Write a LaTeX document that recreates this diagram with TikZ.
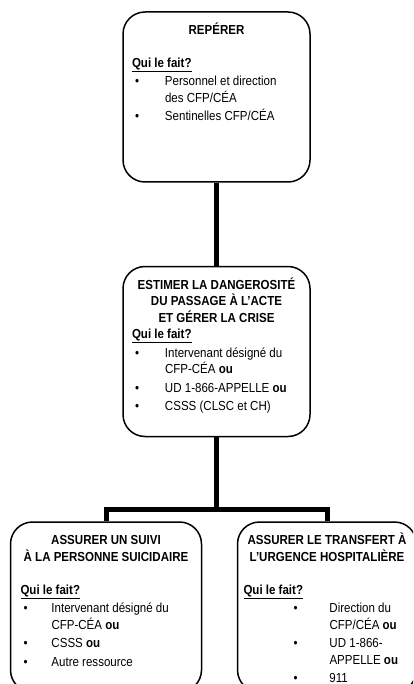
\documentclass[tikz,border=0pt]{standalone}
\usepackage{fontspec}
\setmainfont[FakeStretch=0.88]{Liberation Sans}
\usetikzlibrary{positioning}

\newcommand{\quilefait}{\textbf{\underline{Qui le fait?}}}
\newcommand{\puce}[2]{\par\vspace{2pt}\noindent\hangindent=#2\hangafter=1\hspace*{#1}\makebox[\dimexpr#2-#1\relax][l]{\textbullet}}
\newcommand{\contenu}[2]{\parbox[t][170pt][t]{#1}{\raggedright\rule{0pt}{22.5pt}#2}}

\begin{document}
\begin{tikzpicture}[x=1pt, y=1pt,
    box/.style={draw, rectangle, rounded corners=22pt, line width=1.5pt, inner xsep=9pt, inner ysep=0pt, font=\fontsize{13.1}{16.5}\selectfont},
    conn/.style={line width=5pt}]
    \clip (0,0) rectangle (413,-684);

    \node[box] (reperer) at (216.5,-97) {\contenu{169pt}{\centering\textbf{REPÉRER}\par\vspace{16.5pt}\raggedright
        \quilefait
        \puce{3pt}{33pt}Personnel et direction\newline des CFP/CÉA
        \puce{3pt}{33pt}Sentinelles CFP/CÉA\par}};

    \node[box, below=83pt of reperer] (estimer) {\contenu{169pt}{\centering\textbf{ESTIMER LA DANGEROSITÉ}\\\textbf{DU PASSAGE À L’ACTE}\\\textbf{ET GÉRER LA CRISE}\par\raggedright
        \quilefait
        \puce{3pt}{33pt}Intervenant désigné du\newline CFP-CÉA \textbf{ou}
        \puce{3pt}{33pt}UD 1-866-APPELLE \textbf{ou}
        \puce{3pt}{33pt}CSSS (CLSC et CH)\par}};

    \node[box, inner xsep=10pt, below left=84pt and -80pt of estimer] (suivi) {\contenu{171pt}{\centering\textbf{ASSURER UN SUIVI}\\\textbf{À LA PERSONNE SUICIDAIRE}\par\vspace{16.5pt}\raggedright
        \quilefait
        \puce{3pt}{31pt}Intervenant désigné du\newline CFP-CÉA \textbf{ou}
        \puce{3pt}{31pt}CSSS \textbf{ou}
        \puce{3pt}{31pt}Autre ressource\par}};

    \node[box, inner xsep=6pt, below right=84pt and -74pt of estimer] (transfert) {\contenu{167pt}{\centering\textbf{ASSURER LE TRANSFERT À}\\\textbf{L’URGENCE HOSPITALIÈRE}\par\vspace{16.5pt}\raggedright
        \quilefait
        \puce{50pt}{86pt}Direction du\newline CFP/CÉA \textbf{ou}
        \puce{50pt}{86pt}UD 1-866-\newline APPELLE \textbf{ou}
        \puce{50pt}{86pt}911\par}};

    \draw[conn] (reperer) -- (estimer);
    \draw[conn] (suivi.north) -- ++(0,12) coordinate (branche) -| (transfert.north);
    \draw[conn] (estimer) -- (estimer |- branche);
\end{tikzpicture}
\end{document}
